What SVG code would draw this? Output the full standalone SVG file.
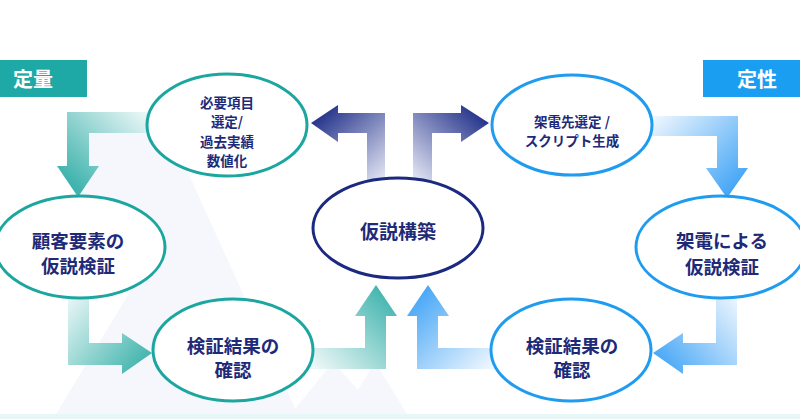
<svg xmlns="http://www.w3.org/2000/svg" width="800" height="419" viewBox="0 0 800 419">
<defs>
<style>
.node-teal{fill:#fff;stroke:#1ba69f;stroke-width:3}
.node-blue{fill:#fff;stroke:#1f9cf0;stroke-width:3}
.node-navy{fill:#fff;stroke:#1b2a80;stroke-width:3}
.t{font-family:"Noto Sans CJK JP","Noto Sans",sans-serif;font-weight:700;fill:#1e2a78;text-anchor:middle;dominant-baseline:central}
.s{font-size:13.5px}
.m{font-size:18.5px}
.lbl{font-family:"Noto Sans CJK JP","Noto Sans",sans-serif;font-weight:700;fill:#fff;font-size:20px;text-anchor:middle;dominant-baseline:central}
</style>
<linearGradient id="gLT" gradientUnits="userSpaceOnUse" x1="150" y1="115" x2="78" y2="190"><stop offset="0" stop-color="#eef8f8"/><stop offset="1" stop-color="#3fb3ad"/></linearGradient>
<linearGradient id="gLB" gradientUnits="userSpaceOnUse" x1="70" y1="295" x2="150" y2="360"><stop offset="0" stop-color="#eaf7f6"/><stop offset="1" stop-color="#3fb3ad"/></linearGradient>
<linearGradient id="gLC" gradientUnits="userSpaceOnUse" x1="312" y1="365" x2="385" y2="290"><stop offset="0" stop-color="#eef8f8"/><stop offset="1" stop-color="#40b4ae"/></linearGradient>
<linearGradient id="gRC" gradientUnits="userSpaceOnUse" x1="493" y1="365" x2="420" y2="290"><stop offset="0" stop-color="#eef6fe"/><stop offset="1" stop-color="#45a6f6"/></linearGradient>
<linearGradient id="gRT" gradientUnits="userSpaceOnUse" x1="652" y1="118" x2="728" y2="195"><stop offset="0" stop-color="#f0f7fe"/><stop offset="1" stop-color="#45a6f6"/></linearGradient>
<linearGradient id="gRB" gradientUnits="userSpaceOnUse" x1="735" y1="295" x2="655" y2="360"><stop offset="0" stop-color="#eef6fe"/><stop offset="1" stop-color="#45a6f6"/></linearGradient>
<linearGradient id="gNL" gradientUnits="userSpaceOnUse" x1="376" y1="182" x2="318" y2="118"><stop offset="0" stop-color="#dde0f0"/><stop offset="1" stop-color="#27368c"/></linearGradient>
<linearGradient id="gNR" gradientUnits="userSpaceOnUse" x1="422" y1="182" x2="482" y2="118"><stop offset="0" stop-color="#dde0f0"/><stop offset="1" stop-color="#27368c"/></linearGradient>
</defs>
<rect width="800" height="419" fill="#ffffff"/>
<g id="background">
<polygon points="80,133 170,133 300,419 53,419 137,280 80,200" fill="#f5f7fc"/>
<polygon points="287,419 333,362 358,390 375,362 410,419" fill="#f5f7fc"/>
<rect x="0" y="414" width="800" height="5" fill="#e7f6f7"/>
</g>
<g id="label-teiryo">
<rect x="0" y="60" width="87" height="37" fill="#1fa9a6"/>
<text class="lbl" x="33" y="78">定量</text>
</g>
<g id="label-teisei">
<rect x="703" y="60" width="97" height="37" fill="#1a9ef2"/>
<text class="lbl" x="757" y="78">定性</text>
</g>
<g id="connectors">
<polygon points="150,112 67,112 67,166 57,166 78,197 99,166 89,166 89,133 150,133" fill="url(#gLT)"/>
<polygon points="68,290 68,365 122,365 122,374 152,353 122,333 122,343 89,343 89,290" fill="url(#gLB)"/>
<polygon points="310,348 365,348 365,316 355,316 376,285 397,316 386,316 386,369 310,369" fill="url(#gLC)"/>
<polygon points="495,348 438,348 438,316 449,316 428,285 407,316 417,316 417,369 495,369" fill="url(#gRC)"/>
<polygon points="650,116 738,116 738,168 748,168 727,198 706,168 717,168 717,136 650,136" fill="url(#gRT)"/>
<polygon points="737,290 737,365 683,365 683,374 653,353 683,333 683,343 716,343 716,290" fill="url(#gRB)"/>
<polygon points="367,185 367,133 338,133 338,142 311,123 338,105 338,113 385,113 385,185" fill="url(#gNL)"/>
<polygon points="432,185 432,133 461,133 461,142 489,123 461,105 461,113 413,113 413,185" fill="url(#gNR)"/>
</g>
<g id="node-hitsuyo">
<ellipse class="node-teal" cx="227" cy="125" rx="80" ry="51"/>
<text class="t s" x="227" y="102">必要項目</text>
<text class="t s" x="227" y="121">選定/</text>
<text class="t s" x="227" y="141">過去実績</text>
<text class="t s" x="227" y="160">数値化</text>
</g>
<g id="node-kadensaki">
<ellipse class="node-blue" cx="572" cy="125" rx="80" ry="50"/>
<text class="t s" x="572" y="121">架電先選定 /</text>
<text class="t s" x="572" y="140">スクリプト生成</text>
</g>
<g id="node-kasetsu">
<ellipse class="node-navy" cx="398" cy="228" rx="85" ry="50"/>
<text class="t" x="398" y="230" style="font-size:19px">仮説構築</text>
</g>
<g id="node-kokyaku">
<ellipse class="node-teal" cx="80" cy="247" rx="85" ry="51"/>
<text class="t m" x="78" y="240">顧客要素の</text>
<text class="t m" x="78" y="265">仮説検証</text>
</g>
<g id="node-kensho-left">
<ellipse class="node-teal" cx="233" cy="350" rx="80" ry="51"/>
<text class="t m" x="233" y="345">検証結果の</text>
<text class="t m" x="233" y="369">確認</text>
</g>
<g id="node-kaden">
<ellipse class="node-blue" cx="721" cy="247" rx="85" ry="51"/>
<text class="t m" x="722" y="240">架電による</text>
<text class="t m" x="722" y="266">仮説検証</text>
</g>
<g id="node-kensho-right">
<ellipse class="node-blue" cx="571" cy="350" rx="80" ry="51"/>
<text class="t m" x="572" y="345">検証結果の</text>
<text class="t m" x="572" y="369">確認</text>
</g>
</svg>
